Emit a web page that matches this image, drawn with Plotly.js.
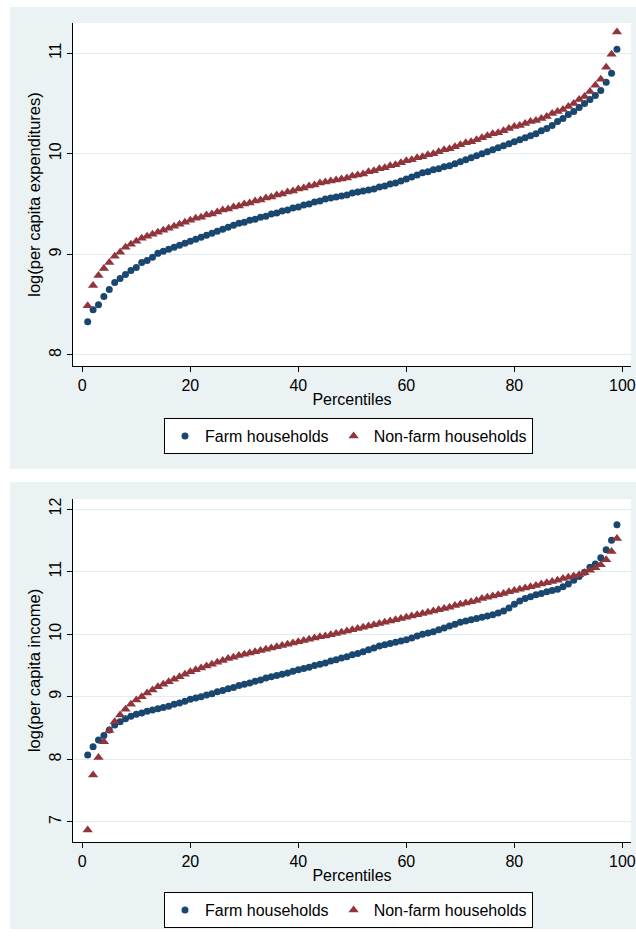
<!DOCTYPE html>
<html>
<head>
<meta charset="utf-8">
<script src="https://cdn.plot.ly/plotly-3.0.1.min.js"></script>
<style>html,body{margin:0;padding:0;background:#fff;}#chart{width:636px;height:939px;}</style>
</head>
<body>
<div id="chart"></div>
<script>
var percentiles = [1,2,3,4,5,6,7,8,9,10,11,12,13,14,15,16,17,18,19,20,21,22,23,24,25,26,27,28,29,30,31,32,33,34,35,36,37,38,39,40,41,42,43,44,45,46,47,48,49,50,51,52,53,54,55,56,57,58,59,60,61,62,63,64,65,66,67,68,69,70,71,72,73,74,75,76,77,78,79,80,81,82,83,84,85,86,87,88,89,90,91,92,93,94,95,96,97,98,99];

var expFarm = [8.33,8.45,8.50,8.58,8.65,8.72,8.76,8.80,8.84,8.87,
8.92,8.94,8.97,9.01,9.03,9.05,9.07,9.09,9.11,9.13,
9.15,9.17,9.19,9.21,9.23,9.25,9.27,9.29,9.31,9.32,
9.34,9.35,9.37,9.38,9.40,9.41,9.43,9.44,9.46,9.47,
9.49,9.50,9.52,9.53,9.55,9.56,9.57,9.58,9.59,9.61,
9.62,9.63,9.64,9.65,9.67,9.68,9.70,9.71,9.73,9.75,
9.77,9.79,9.81,9.82,9.84,9.85,9.87,9.88,9.90,9.92,
9.94,9.96,9.98,10.00,10.02,10.04,10.06,10.08,10.10,10.12,
10.14,10.16,10.18,10.20,10.23,10.25,10.28,10.32,10.35,10.39,
10.42,10.46,10.50,10.54,10.58,10.63,10.71,10.80,11.04];

var expNonfarm = [8.49,8.69,8.79,8.86,8.92,8.98,9.02,9.07,9.10,9.13,
9.16,9.18,9.20,9.22,9.24,9.26,9.28,9.30,9.32,9.34,
9.36,9.37,9.39,9.40,9.42,9.44,9.45,9.47,9.48,9.50,
9.51,9.53,9.54,9.56,9.57,9.59,9.60,9.62,9.63,9.65,
9.66,9.68,9.69,9.71,9.72,9.73,9.74,9.75,9.76,9.78,
9.79,9.80,9.82,9.83,9.85,9.86,9.88,9.89,9.91,9.93,
9.94,9.96,9.97,9.99,10.00,10.02,10.04,10.05,10.07,10.09,
10.11,10.12,10.14,10.16,10.18,10.20,10.21,10.23,10.25,10.27,
10.28,10.30,10.32,10.33,10.35,10.37,10.40,10.42,10.44,10.47,
10.50,10.54,10.57,10.62,10.68,10.74,10.86,10.99,11.21];

var incFarm = [8.07,8.20,8.31,8.38,8.47,8.55,8.60,8.65,8.69,8.72,
8.74,8.77,8.79,8.81,8.83,8.85,8.88,8.90,8.93,8.96,
8.98,9.00,9.03,9.05,9.08,9.10,9.13,9.15,9.18,9.20,
9.22,9.25,9.27,9.30,9.32,9.34,9.36,9.38,9.41,9.43,
9.45,9.47,9.50,9.52,9.54,9.57,9.59,9.62,9.64,9.67,
9.69,9.72,9.75,9.78,9.81,9.83,9.85,9.87,9.89,9.91,
9.94,9.97,10.00,10.02,10.04,10.07,10.10,10.13,10.16,10.19,
10.21,10.23,10.25,10.27,10.29,10.31,10.34,10.37,10.42,10.48,
10.53,10.57,10.60,10.63,10.65,10.68,10.70,10.72,10.76,10.80,
10.86,10.92,10.99,11.07,11.12,11.22,11.35,11.50,11.75];

var incNonfarm = [6.87,7.75,8.03,8.28,8.46,8.60,8.71,8.80,8.88,8.95,
9.00,9.06,9.11,9.16,9.20,9.24,9.28,9.32,9.36,9.40,
9.43,9.46,9.49,9.52,9.55,9.58,9.61,9.63,9.66,9.68,
9.70,9.72,9.74,9.76,9.78,9.80,9.82,9.84,9.86,9.88,
9.90,9.92,9.94,9.96,9.97,9.99,10.01,10.03,10.05,10.07,
10.09,10.11,10.13,10.15,10.17,10.19,10.21,10.23,10.25,10.27,
10.29,10.31,10.33,10.35,10.37,10.39,10.41,10.43,10.46,10.48,
10.50,10.52,10.54,10.57,10.59,10.61,10.63,10.65,10.68,10.70,
10.72,10.74,10.76,10.78,10.80,10.82,10.84,10.86,10.89,10.91,
10.93,10.95,10.98,11.02,11.06,11.11,11.19,11.32,11.53];

var seriesNames = ["Farm households", "Non-farm households"];
var xTicks = [0, 20, 40, 60, 80, 100];
var yTicksExp = [8, 9, 10, 11];
var yTicksInc = [7, 8, 9, 10, 11, 12];
var xTitle = "Percentiles";
var yTitleExp = "log(per capita expenditures)";
var yTitleInc = "log(per capita income)";

var W = 636, H = 939;
var NAVY = "#1a476f", MAROON = "#90353b", PANEL = "#eaf2f3", GRID = "#e2edef";
var FONT = "Liberation Sans, Arial, sans-serif";

function px(x){ return x / W; }
function py(y){ return 1 - y / H; }

var circle = {symbol: "circle", size: 7, color: NAVY};
var tri = {symbol: "triangle-up", size: 9, color: MAROON};

var traces = [
  {x: percentiles, y: expFarm, type: "scatter", mode: "markers", name: seriesNames[0], marker: circle, xaxis: "x", yaxis: "y", legend: "legend"},
  {x: percentiles, y: expNonfarm, type: "scatter", mode: "markers", name: seriesNames[1], marker: tri, xaxis: "x", yaxis: "y", legend: "legend"},
  {x: percentiles, y: incFarm, type: "scatter", mode: "markers", name: seriesNames[0], marker: circle, xaxis: "x2", yaxis: "y2", legend: "legend2"},
  {x: percentiles, y: incNonfarm, type: "scatter", mode: "markers", name: seriesNames[1], marker: tri, xaxis: "x2", yaxis: "y2", legend: "legend2"}
];

function xAxis(anchor){
  return {
    domain: [px(73), px(631)], anchor: anchor, range: [-1.72, 101.6],
    tickvals: xTicks, ticks: "outside", ticklen: 5, tickcolor: "#000", tickwidth: 1,
    showline: true, linecolor: "#000", linewidth: 1, showgrid: false, zeroline: false,
    tickfont: {family: FONT, size: 16, color: "#000"},
    title: {text: xTitle, font: {family: FONT, size: 16, color: "#000"}, standoff: 0}
  };
}
function yAxis(anchor, dom, range, ticks, title){
  return {
    domain: dom, anchor: anchor, range: range, tickvals: ticks,
    ticks: "outside", ticklen: 5, tickcolor: "#000", tickwidth: 1, tickangle: -90,
    showline: true, linecolor: "#000", linewidth: 1,
    showgrid: true, gridcolor: GRID, gridwidth: 1, zeroline: false,
    tickfont: {family: FONT, size: 16, color: "#000"},
    title: {text: title, font: {family: FONT, size: 16.5, color: "#000"}, standoff: 1}
  };
}

var legendBase = {
  orientation: "h", xanchor: "left", yanchor: "top", x: px(164),
  bgcolor: "#fff", bordercolor: "#000", borderwidth: 1,
  font: {family: FONT, size: 16, color: "#000"}, itemclick: false, itemdoubleclick: false
};

var layout = {
  width: W, height: H, margin: {l: 0, r: 0, t: 0, b: 0},
  paper_bgcolor: "#fff", plot_bgcolor: "#fff", font: {family: FONT},
  xaxis: xAxis("y"),
  yaxis: yAxis("x", [py(366), py(23)], [7.89, 11.30], yTicksExp, yTitleExp),
  xaxis2: xAxis("y2"),
  yaxis2: yAxis("x2", [py(842), py(499)], [6.68, 12.16], yTicksInc, yTitleInc),
  legend: Object.assign({}, legendBase, {y: py(418)}),
  legend2: Object.assign({}, legendBase, {y: py(892)}),
  shapes: [
    {type: "rect", xref: "paper", yref: "paper", x0: px(10), x1: 1, y0: py(469), y1: py(7), fillcolor: PANEL, line: {width: 0}, layer: "below"},
    {type: "rect", xref: "paper", yref: "paper", x0: px(73), x1: px(631), y0: py(366), y1: py(23), fillcolor: "#fff", line: {width: 0}, layer: "below"},
    {type: "rect", xref: "paper", yref: "paper", x0: px(10), x1: 1, y0: py(929), y1: py(482), fillcolor: PANEL, line: {width: 0}, layer: "below"},
    {type: "rect", xref: "paper", yref: "paper", x0: px(73), x1: px(631), y0: py(842), y1: py(499), fillcolor: "#fff", line: {width: 0}, layer: "below"}
  ],
  showlegend: true
};

Plotly.newPlot("chart", traces, layout, {staticPlot: true, displayModeBar: false});
</script>
</body>
</html>
